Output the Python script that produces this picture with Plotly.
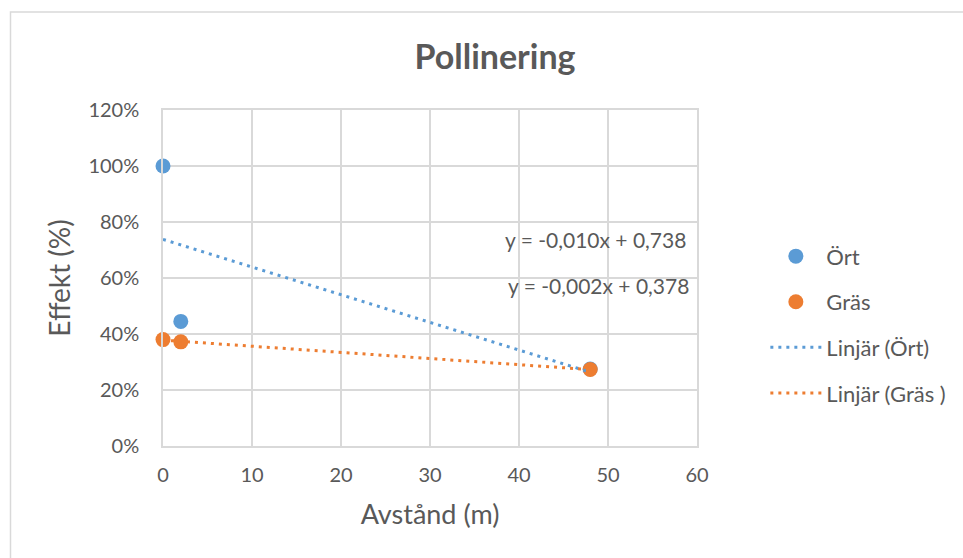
import numpy as np
import plotly.graph_objects as go

# ---- data ----
avstand = [0, 2, 48]
ort = [1.00, 0.445, 0.275]
gras = [0.380, 0.372, 0.273]
x_ticks = [0, 10, 20, 30, 40, 50, 60]
y_ticks = [0, 0.2, 0.4, 0.6, 0.8, 1.0, 1.2]

BLUE = "#5B9BD5"
ORANGE = "#ED7D31"
TXT = "#595959"
GRID = "#D9D9D9"
FONT = "Lato"

def fit(xs, ys):
    k, m = np.polyfit(xs, ys, 1)
    xr = np.array([min(xs), max(xs)], dtype=float)
    return k, m, xr, k * xr + m

def fmt(v):
    return f"{v:.3f}".replace(".", ",")

k1, m1, xr1, yr1 = fit(avstand, ort)
k2, m2, xr2, yr2 = fit(avstand, gras)

fig = go.Figure()
fig.add_trace(go.Scatter(x=avstand, y=ort, mode="markers", name="Ört", cliponaxis=False,
                         marker=dict(color=BLUE, size=15), legendgroup="a"))
fig.add_trace(go.Scatter(x=avstand, y=gras, mode="markers", name="Gräs", cliponaxis=False,
                         marker=dict(color=ORANGE, size=15), legendgroup="b"))
fig.add_trace(go.Scatter(x=xr1, y=yr1, mode="lines", name="Linjär (Ört)", cliponaxis=False,
                         line=dict(color=BLUE, width=3, dash="3px,5px"), legendgroup="c"))
fig.add_trace(go.Scatter(x=xr2, y=yr2, mode="lines", name="Linjär (Gräs )", cliponaxis=False,
                         line=dict(color=ORANGE, width=3, dash="3px,5px"), legendgroup="d"))

fig.add_annotation(x=59.0, y=0.737, xref="x", yref="y", xanchor="right", yanchor="middle",
                   text=f"y = {fmt(k1)}x + {fmt(m1)}", showarrow=False,
                   font=dict(family=FONT, size=21, color=TXT))
fig.add_annotation(x=59.3, y=0.572, xref="x", yref="y", xanchor="right", yanchor="middle",
                   text=f"y = {fmt(k2)}x + {fmt(m2)}", showarrow=False,
                   font=dict(family=FONT, size=21, color=TXT))

# outer chart border
fig.add_shape(type="rect", xref="paper", yref="paper",
              x0=(10.5 - 163) / 534, x1=(975 - 163) / 534,
              y0=(446 - 570) / 336, y1=(446 - 12) / 336,
              line=dict(color=GRID, width=1.5), fillcolor="rgba(0,0,0,0)", layer="below")

fig.update_layout(
    width=963, height=558,
    margin=dict(l=163, r=266, t=110, b=112),
    paper_bgcolor="white", plot_bgcolor="white",
    font=dict(family=FONT, color=TXT, size=20),
    title=dict(text="<b>Pollinering</b>", x=495 / 963, xref="container", xanchor="center",
               y=1 - 57 / 558, yref="container", yanchor="middle",
               font=dict(family=FONT, size=34, color=TXT)),
    showlegend=True,
    legend=dict(x=1.128, y=0.627, xanchor="left", yanchor="top",
                font=dict(family=FONT, size=22, color=TXT), itemwidth=51,
                tracegroupgap=14, bgcolor="rgba(0,0,0,0)"),
    xaxis=dict(range=[0, 60], tickvals=x_ticks, showgrid=True, gridcolor=GRID, gridwidth=1.5,
               zeroline=False, showline=True, linecolor=GRID, linewidth=1.5, mirror=True,
               ticks="", ticklabelstandoff=10, tickfont=dict(size=20, color=TXT),
               title=dict(text="Avstånd (m)", font=dict(size=27, color=TXT), standoff=20)),
    yaxis=dict(range=[0, 1.2], tickvals=y_ticks, tickformat=".0%", showgrid=True,
               gridcolor=GRID, gridwidth=1.5, zeroline=False, showline=True, linecolor=GRID,
               linewidth=1.5, mirror=True, ticks="", ticklabelstandoff=18,
               tickfont=dict(size=20, color=TXT),
               title=dict(text="Effekt (%)", font=dict(size=28, color=TXT), standoff=10)),
)

fig.write_html("out.html")
